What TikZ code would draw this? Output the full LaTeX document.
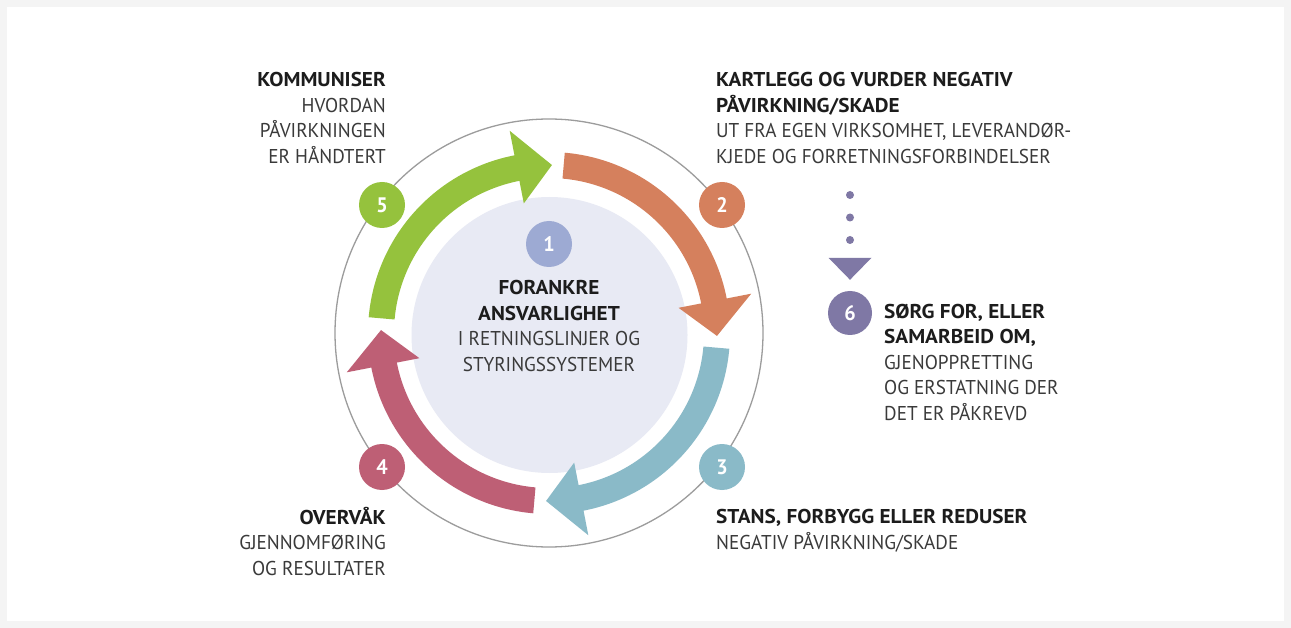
\documentclass[tikz,border=0pt]{standalone}
\usepackage{fontspec}
\setmainfont{PT Sans}[FakeStretch=0.96]
\newfontfamily\headfont{PT Sans}[FakeStretch=1.06]
\usetikzlibrary{arrows.meta}
\definecolor{bggray}{HTML}{F4F4F4}
\definecolor{ringgray}{HTML}{9C9C9C}
\definecolor{hubfill}{HTML}{E8EAF4}
\definecolor{arrgreen}{HTML}{95C23D}
\definecolor{arrorange}{HTML}{D5805D}
\definecolor{arrteal}{HTML}{8ABAC8}
\definecolor{arrrose}{HTML}{BE5F75}
\definecolor{hubblue}{HTML}{9DAAD3}
\definecolor{sixpurple}{HTML}{7F78A5}
\definecolor{txtdark}{HTML}{1C1C1C}
\definecolor{txtlight}{HTML}{3A3A3A}
\newcommand{\headtxt}[1]{\textcolor{txtdark}{\headfont\bfseries #1}}

\begin{document}
\begin{tikzpicture}[x=1pt,y=1pt]
\tikzstyle{every node}+=[inner sep=0pt]
\tikzstyle{badge}=[circle, minimum size=46pt, text=white, font=\fontsize{21}{21}\selectfont\bfseries]
\tikzstyle{label}=[text=txtlight, font=\fontsize{20}{25.5}\selectfont]
\tikzstyle{dotline}=[sixpurple, line width=8pt, line cap=round, dash pattern=on 0pt off 22.5pt,
  -{Triangle[width=43pt,length=22pt,line width=0pt 0]}]
\fill [bggray] (0,0) rectangle (1291,-628);
\fill [white] (7,-7) rectangle (1284,-621);
\useasboundingbox (0,0) rectangle (1291,-628);
\coordinate (c) at (549,-333);
\draw [ringgray, line width=1.3pt] (c) circle (214);
\node [circle, fill=hubfill, minimum size=276pt] (hub) at (549.5,-335) {};
\foreach \a/\col in {85/arrorange,-5/arrteal,-95/arrrose,175/arrgreen}
  \fill [\col, shift={(c)}] (\a:181) arc [start angle=\a, end angle=\a-74, radius=181]
    -- (\a-74:206) -- (\a-86:168) -- (\a-74:132) -- (\a-74:155)
    arc [start angle=\a-74, end angle=\a, radius=155] -- cycle;
\node [badge, fill=hubblue] (one) at (549,-244) {1};
\node [badge, fill=arrorange] (two) at (722,-205) {2};
\node [badge, fill=arrteal] (three) at (722,-467) {3};
\node [badge, fill=arrrose] (four) at (382,-467) {4};
\node [badge, fill=arrgreen] (five) at (382,-205) {5};
\node [badge, fill=sixpurple, minimum size=44pt] (six) at (850,-313) {6};
\node [label, anchor=base, align=center] (onetxt) at (549,-371)
  {\headtxt{FORANKRE}\\\headtxt{ANSVARLIGHET}\\I RETNINGSLINJER OG\\STYRINGSSYSTEMER};
\node [label, anchor=base west, align=left] (twotxt) at (716,-163.5)
  {\headtxt{KARTLEGG OG VURDER NEGATIV}\\\headtxt{PÅVIRKNING/SKADE}\\UT FRA EGEN VIRKSOMHET, LEVERANDØR-\\KJEDE OG FORRETNINGSFORBINDELSER};
\node [label, anchor=base west, align=left] (threetxt) at (716,-549)
  {\headtxt{STANS, FORBYGG ELLER REDUSER}\\NEGATIV PÅVIRKNING/SKADE};
\node [label, anchor=base east, align=right] (fourtxt) at (386,-575)
  {\headtxt{OVERVÅK}\\GJENNOMFØRING\\OG RESULTATER};
\node [label, anchor=base east, align=right] (fivetxt) at (386,-163.5)
  {\headtxt{KOMMUNISER}\\HVORDAN\\PÅVIRKNINGEN\\ER HÅNDTERT};
\node [label, anchor=base west, align=left] (sixtxt) at (884,-420)
  {\headtxt{SØRG FOR, ELLER}\\\headtxt{SAMARBEID OM,}\\GJENOPPRETTING\\OG ERSTATNING DER\\DET ER PÅKREVD};
\coordinate (dottop) at (850,-195);
\draw [dotline] (dottop) -- ([yshift=11pt]six.north);
\end{tikzpicture}
\end{document}
